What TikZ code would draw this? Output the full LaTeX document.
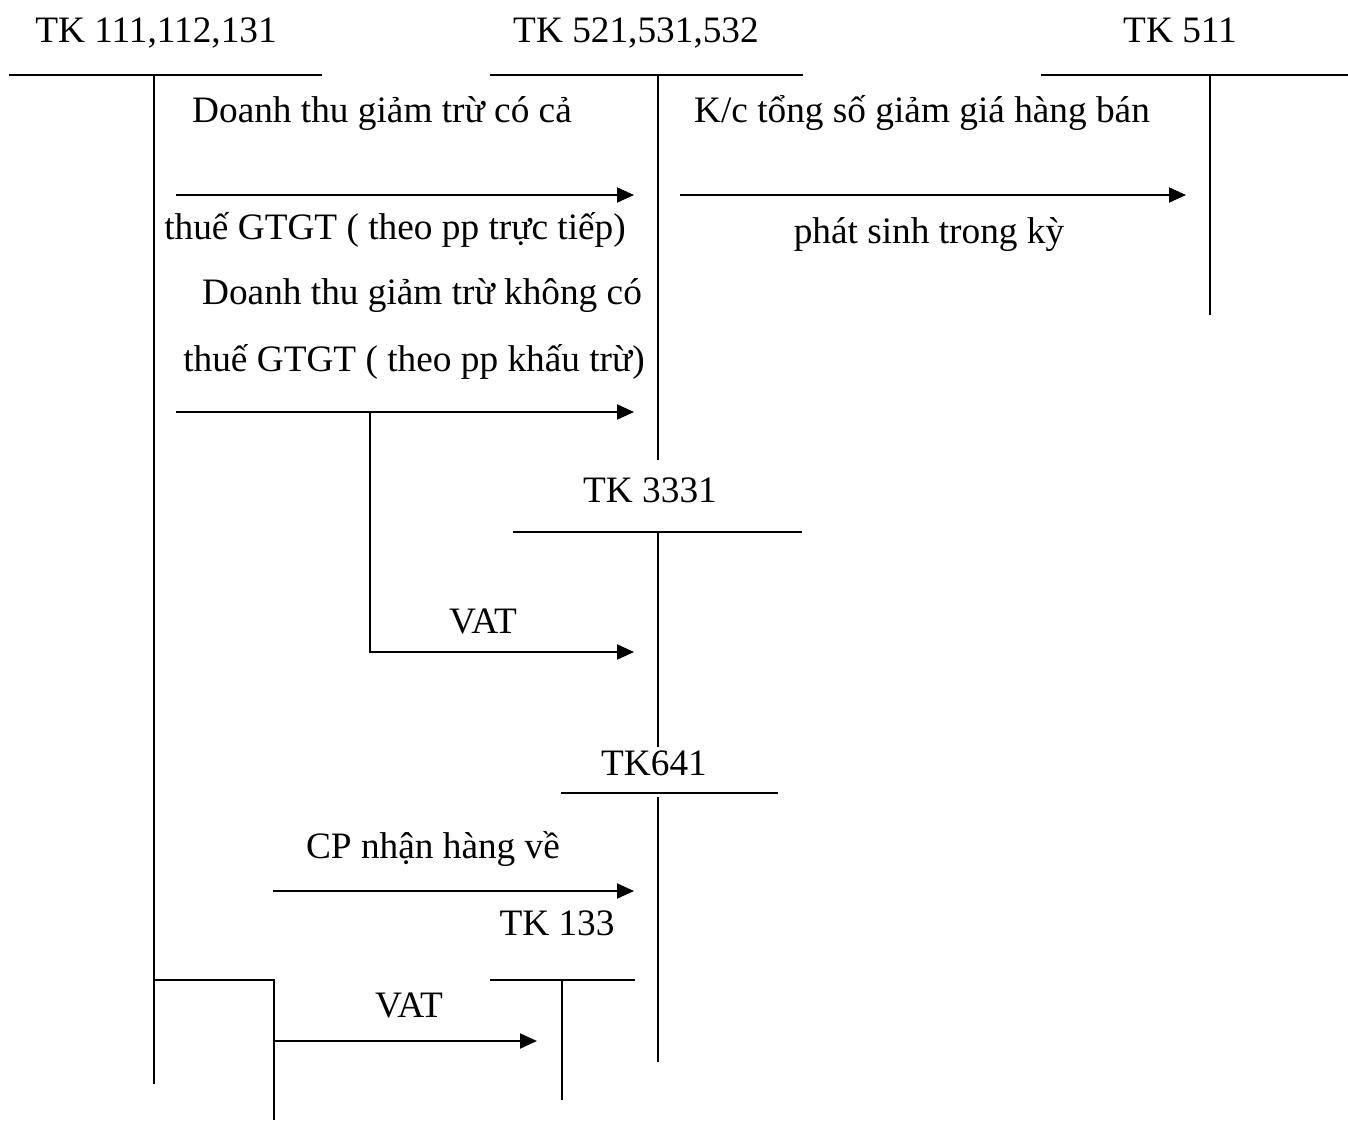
\documentclass[tikz,border=0pt]{standalone}
\usepackage{fontspec}
\setmainfont{Liberation Serif}
\usetikzlibrary{arrows.meta}
\begin{document}
\begin{tikzpicture}[x=1pt,y=-1pt,line width=2pt,
  lbl/.style={font=\fontsize{37.3}{44}\selectfont,inner sep=0pt,anchor=base},
  arr/.style={-{Triangle[length=17pt,width=15pt]}}]
\useasboundingbox (0,0) rectangle (1348,1120);
% account titles
\node[lbl] (t1) at (156,42) {TK 111,112,131};
\node[lbl] (t2) at (636,42) {TK 521,531,532};
\node[lbl] (t3) at (1180,42) {TK 511};
\node[lbl] (t4) at (650,502) {TK 3331};
\node[lbl] (t5) at (654,775) {TK641};
\node[lbl] (t6) at (557,935) {TK 133};
% T-account coordinates
\coordinate (a1L) at (9,75);    \coordinate (a1R) at (322,75);
\coordinate (a1T) at (154,75);  \coordinate (a1B) at (154,1084);
\coordinate (a2L) at (490,75);  \coordinate (a2R) at (803,75);
\coordinate (a2T) at (658,75);  \coordinate (a2B) at (658,460);
\coordinate (a3L) at (1041,75); \coordinate (a3R) at (1348,75);
\coordinate (a3T) at (1210,75); \coordinate (a3B) at (1210,315);
\coordinate (a4L) at (513,532); \coordinate (a4R) at (802,532);
\coordinate (a4T) at (658,532); \coordinate (a4B) at (658,747);
\coordinate (a5L) at (561,793); \coordinate (a5R) at (778,793);
\coordinate (a5T) at (658,797); \coordinate (a5B) at (658,1062);
\coordinate (a6L) at (490,980); \coordinate (a6R) at (635,980);
\coordinate (a6T) at (562,980); \coordinate (a6B) at (562,1100);
\draw (a1L) -- (a1R); \draw (a1T) -- (a1B);
\draw (a2L) -- (a2R); \draw (a2T) -- (a2B);
\draw (a3L) -- (a3R); \draw (a3T) -- (a3B);
\draw (a4L) -- (a4R); \draw (a4T) -- (a4B);
\draw (a5L) -- (a5R); \draw (a5T) -- (a5B);
\draw (a6L) -- (a6R); \draw (a6T) -- (a6B);
% arrows
\coordinate (e1s) at (176,195); \coordinate (e1e) at (634,195);
\coordinate (e2s) at (680,195); \coordinate (e2e) at (1186,195);
\coordinate (e3s) at (176,412); \coordinate (e3e) at (634,412);
\coordinate (b1) at (370,412);  \coordinate (b2) at (370,652); \coordinate (e4e) at (634,652);
\coordinate (e5s) at (273,891); \coordinate (e5e) at (634,891);
\coordinate (c1) at (154,980);  \coordinate (c2) at (274,980);
\coordinate (c3) at (274,1120); \coordinate (c4) at (274,1041); \coordinate (e6e) at (537,1041);
\draw[arr] (e1s) -- (e1e);
\draw[arr] (e2s) -- (e2e);
\draw[arr] (e3s) -- (e3e);
\draw[arr] (b1) -- (b2) -- (e4e);
\draw[arr] (e5s) -- (e5e);
\draw (c1) -- (c2) -- (c3);
\draw[arr] (c4) -- (e6e);
% labels
\node[lbl] (l1) at (382,122) {Doanh thu giảm trừ có cả};
\node[lbl] (l2) at (395,239) {thuế GTGT ( theo pp trực tiếp)};
\node[lbl] (l3) at (922,122) {K/c tổng số giảm giá hàng bán};
\node[lbl] (l4) at (929,243) {phát sinh trong kỳ};
\node[lbl] (l5) at (422,304) {Doanh thu giảm trừ không có};
\node[lbl] (l6) at (414,371) {thuế GTGT ( theo pp khấu trừ)};
\node[lbl] (l7) at (483,633) {VAT};
\node[lbl] (l8) at (433,858) {CP nhận hàng về};
\node[lbl] (l9) at (409,1017) {VAT};
\end{tikzpicture}
\end{document}
